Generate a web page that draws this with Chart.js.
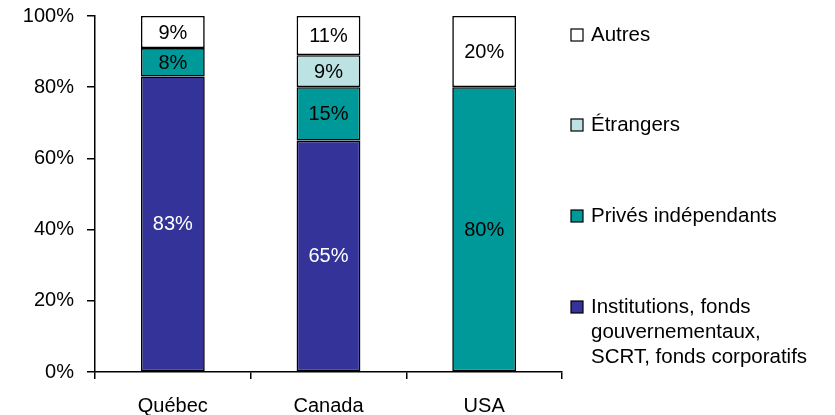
<!DOCTYPE html>
<html lang="fr">
<head>
<meta charset="utf-8">
<script src="https://cdn.jsdelivr.net/npm/chart.js@4.4.1/dist/chart.umd.min.js"></script>
<style>
  html, body { margin: 0; padding: 0; background: #fff; }
  #wrap { width: 835px; height: 415px; position: relative; }
</style>
</head>
<body>
<div id="wrap"><canvas id="chart"></canvas></div>
<script>
// data
const categories = ['Québec', 'Canada', 'USA'];
const institutions = [83, 65, null];
const prives = [8, 15, 80];
const etrangers = [null, 9, null];
const autres = [9, 11, 20];
const yTicks = [0, 20, 40, 60, 80, 100];

const FONT = '"Liberation Sans", Arial, sans-serif';

// labels inside each bar segment
const segmentLabels = {
    id: 'segmentLabels',
    afterDatasetsDraw(chart) {
        const ctx = chart.ctx;
        ctx.save();
        ctx.font = '20px ' + FONT;
        ctx.textAlign = 'center';
        ctx.textBaseline = 'middle';
        chart.data.datasets.forEach((ds, i) => {
            const meta = chart.getDatasetMeta(i);
            meta.data.forEach((bar, j) => {
                const v = ds.data[j];
                if (v === null || v === undefined) return;
                ctx.fillStyle = ds.labelColor;
                ctx.fillText(v + '%', bar.x, (bar.y + bar.base) / 2 + 1);
            });
        });
        ctx.restore();
    }
};

// legend on the right, drawn top to bottom in reverse order
const sideLegend = {
    id: 'sideLegend',
    afterDraw(chart) {
        const ctx = chart.ctx;
        const rows = [35, 125, 216, 307];
        const sets = chart.data.datasets.slice().reverse();
        ctx.save();
        ctx.font = '20.5px ' + FONT;
        ctx.textBaseline = 'middle';
        ctx.textAlign = 'left';
        sets.forEach((ds, k) => {
            const y = rows[k];
            ctx.fillStyle = ds.backgroundColor;
            ctx.fillRect(571, y - 6, 12, 12);
            ctx.strokeStyle = '#000';
            ctx.lineWidth = 1.2;
            ctx.strokeRect(571, y - 6, 12, 12);
            ctx.fillStyle = '#000';
            ds.legendLines.forEach((line, n) => {
                ctx.fillText(line, 591, y + n * 25);
            });
        });
        ctx.restore();
    }
};

new Chart(document.getElementById('chart'), {
    type: 'bar',
    data: {
        labels: categories,
        datasets: [
            {
                label: 'Institutions, fonds gouvernementaux, SCRT, fonds corporatifs',
                legendLines: ['Institutions, fonds', 'gouvernementaux,', 'SCRT, fonds corporatifs'],
                data: institutions,
                backgroundColor: '#333399',
                labelColor: '#fff'
            },
            {
                label: 'Privés indépendants',
                legendLines: ['Privés indépendants'],
                data: prives,
                backgroundColor: '#009999',
                labelColor: '#000'
            },
            {
                label: 'Étrangers',
                legendLines: ['Étrangers'],
                data: etrangers,
                backgroundColor: '#bce2e3',
                labelColor: '#000'
            },
            {
                label: 'Autres',
                legendLines: ['Autres'],
                data: autres,
                backgroundColor: '#ffffff',
                labelColor: '#000'
            }
        ]
    },
    options: {
        responsive: true,
        maintainAspectRatio: false,
        animation: false,
        datasets: {
            bar: {
                borderColor: '#000',
                borderWidth: 1.6,
                borderSkipped: false,
                categoryPercentage: 1,
                barPercentage: 0.41
            }
        },
        layout: { padding: { top: 16, right: 273, bottom: 0, left: 0 } },
        plugins: {
            legend: { display: false },
            tooltip: { enabled: false }
        },
        scales: {
            x: {
                stacked: true,
                afterFit(s) { s.height = 43; s.paddingLeft = 0; s.paddingRight = 0; },
                grid: {
                    display: true,
                    offset: true,
                    drawOnChartArea: false,
                    drawTicks: true,
                    tickLength: 7,
                    color: '#000',
                    lineWidth: 1.5
                },
                border: { display: true, color: '#000', width: 1.5 },
                ticks: {
                    color: '#000',
                    font: { family: FONT, size: 20 },
                    padding: 15
                }
            },
            y: {
                stacked: true,
                min: 0,
                max: 100,
                afterFit(s) { s.width = 95; s.paddingTop = 0; s.paddingBottom = 0; },
                afterBuildTicks(s) { s.ticks = yTicks.map(v => ({ value: v })); },
                grid: {
                    display: true,
                    drawOnChartArea: false,
                    drawTicks: true,
                    tickLength: 8,
                    color: '#000',
                    lineWidth: 1.5
                },
                border: { display: true, color: '#000', width: 1.5 },
                ticks: {
                    color: '#000',
                    font: { family: FONT, size: 20 },
                    padding: 13,
                    callback: v => v + '%'
                }
            }
        }
    },
    plugins: [segmentLabels, sideLegend]
});
</script>
</body>
</html>
